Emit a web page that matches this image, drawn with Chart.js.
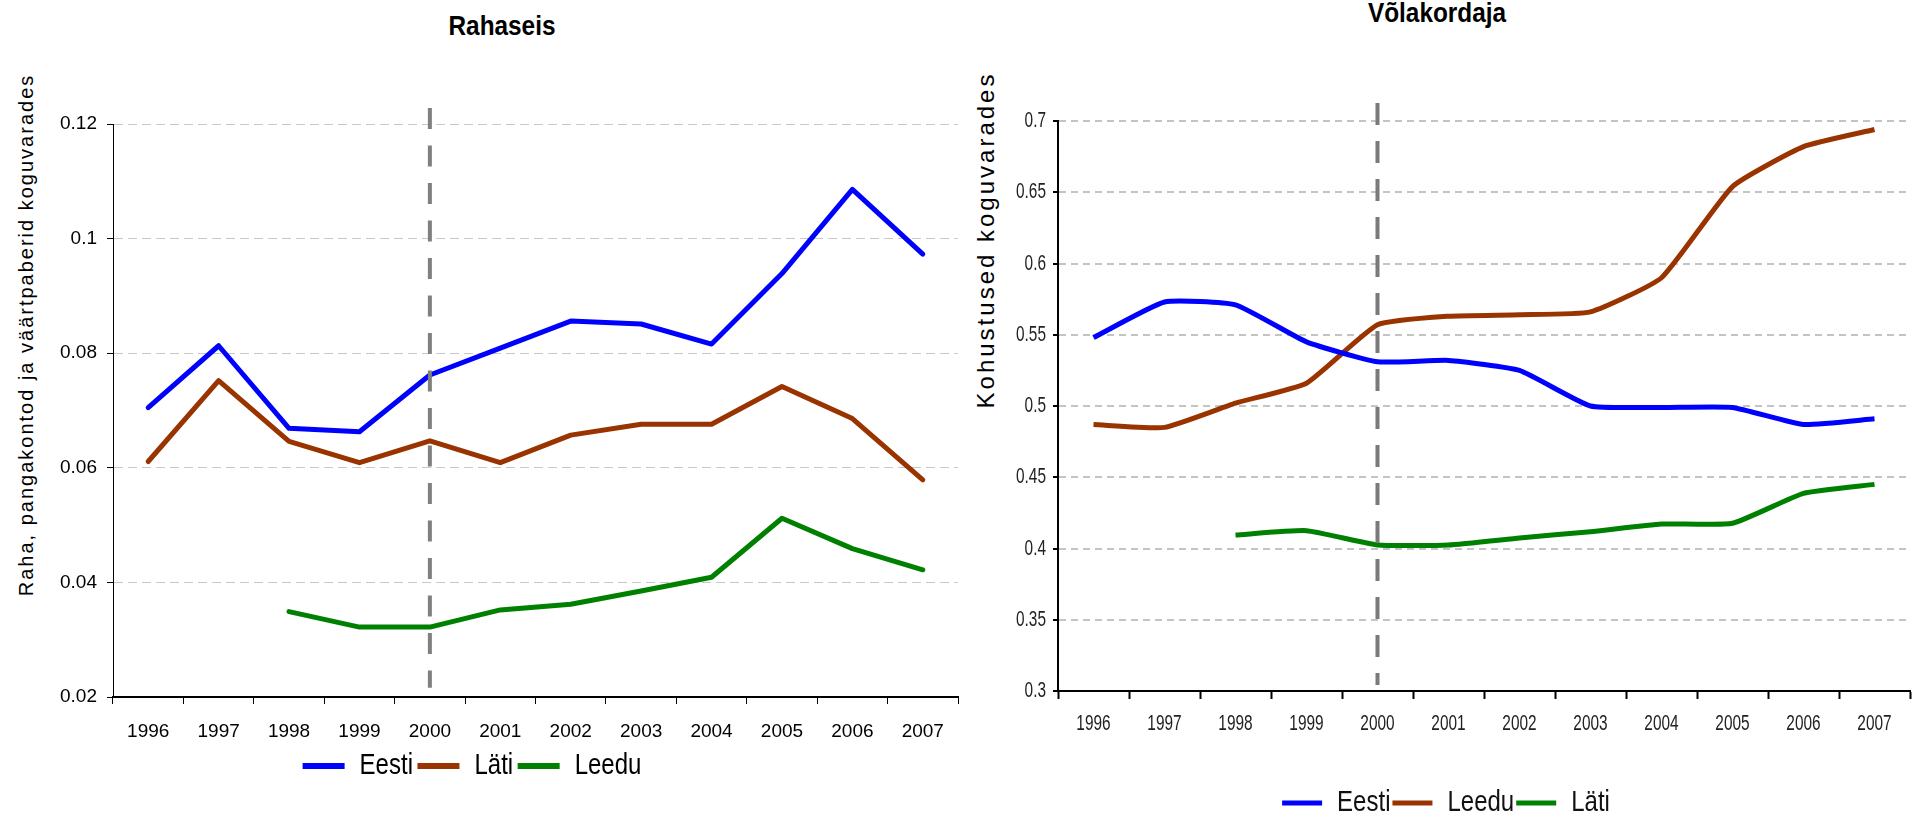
<!DOCTYPE html>
<html>
<head>
<meta charset="utf-8">
<script src="https://cdn.jsdelivr.net/npm/chart.js@4.4.0/dist/chart.umd.min.js"></script>
<style>
  body { margin: 0; width: 1921px; height: 817px; overflow: hidden; background: #fff; position: relative; font-family: 'Liberation Sans', Arial, sans-serif; }
  .box { position: absolute; top: 0; height: 840px; }
  #leftBox { left: -14px; width: 975px; }
  #rightBox { left: 982px; width: 939px; }
  .title { position: absolute; font-weight: bold; font-size: 28px; transform: translate(-50%, -50%) scaleX(0.87); white-space: nowrap; }
  .ytitle { position: absolute; white-space: nowrap; transform: translate(-50%, -50%) rotate(-90deg); color: #000; }
</style>
</head>
<body>
<div class="title" style="left:502px; top:26px;">Rahaseis</div>
<div class="title" style="left:1437px; top:13px;">Võlakordaja</div>
<div class="ytitle" style="left:26px; top:335px; font-size:20px; letter-spacing:2px;">Raha, pangakontod ja väärtpaberid koguvarades</div>
<div class="ytitle" style="left:986px; top:240px; font-size:24px; letter-spacing:3px;">Kohustused koguvarades</div>
<div class="box" id="leftBox"><canvas id="cashChart"></canvas></div>
<div class="box" id="rightBox"><canvas id="debtChart"></canvas></div>
<script>
const years = ['1996', '1997', '1998', '1999', '2000', '2001', '2002', '2003', '2004', '2005', '2006', '2007']

// Rahaseis
const cashEesti = [0.0705, 0.0813, 0.0669, 0.0663, 0.0762, 0.0809, 0.0856, 0.0851, 0.0816, 0.0939, 0.1086, 0.0973]
const cashLati = [0.0611, 0.0752, 0.0646, 0.0609, 0.0647, 0.0609, 0.0657, 0.0676, 0.0676, 0.0742, 0.0686, 0.0579]
const cashLeedu = [null, null, 0.0349, 0.0322, 0.0322, 0.0352, 0.0362, 0.0385, 0.0409, 0.0512, 0.0459, 0.0422]
const cashTicks = [0.02, 0.04, 0.06, 0.08, 0.1, 0.12]

// Võlakordaja
const debtEesti = [0.548, 0.573, 0.571, 0.545, 0.531, 0.532, 0.525, 0.500, 0.499, 0.499, 0.487, 0.491]
const debtLeedu = [0.487, 0.485, 0.502, 0.516, 0.557, 0.563, 0.564, 0.566, 0.590, 0.654, 0.682, 0.694]
const debtLati = [null, null, 0.4095, 0.4125, 0.4025, 0.4025, 0.4074, 0.4118, 0.4172, 0.4177, 0.4387, 0.445]
const debtTicks = [0.3, 0.35, 0.4, 0.45, 0.5, 0.55, 0.6, 0.65, 0.7]

// dashed marker at year 2000, value range it covers
const refYear = '2000'
const cashRefSpan = [0.0216, 0.1228]
const debtRefSpan = [0.3042, 0.7126]

// "sqNN" in a family list = draw that text squeezed to NN% width (no narrow font installed)
const regular = "'Liberation Sans', Arial, sans-serif"
const narrow80 = "'Liberation Sans', sq80, sans-serif"
const narrow70 = "'Liberation Sans', sq70, sans-serif"

let squeeze = (canvas) => {
  const ctx = canvas.getContext('2d')
  const fill = ctx.fillText.bind(ctx)
  const measure = ctx.measureText.bind(ctx)
  const factor = () => {
    const m = /sq(\d+)/.exec(ctx.font)
    return m ? m[1] / 100 : 1
  }
  ctx.fillText = (text, x, y, maxWidth) => {
    const k = factor()
    if (k === 1) return fill(text, x, y, maxWidth)
    ctx.save()
    ctx.translate(x, y)
    ctx.scale(k, 1)
    fill(text, 0, 0)
    ctx.restore()
  }
  ctx.measureText = (text) => {
    const k = factor()
    const m = measure(text)
    if (k === 1) return m
    return {
      width: m.width * k,
      actualBoundingBoxAscent: m.actualBoundingBoxAscent,
      actualBoundingBoxDescent: m.actualBoundingBoxDescent,
      actualBoundingBoxLeft: m.actualBoundingBoxLeft * k,
      actualBoundingBoxRight: m.actualBoundingBoxRight * k
    }
  }
  return canvas
}

const refLine = {
  id: 'refLine',
  afterDatasetsDraw(chart, args, opts) {
    const { ctx, scales: { x, y } } = chart
    const px = x.getPixelForValue(years.indexOf(refYear))
    ctx.save()
    ctx.strokeStyle = opts.color
    ctx.lineWidth = opts.width
    ctx.setLineDash(opts.dash)
    ctx.beginPath()
    ctx.moveTo(px, y.getPixelForValue(opts.span[1]))
    ctx.lineTo(px, y.getPixelForValue(opts.span[0]))
    ctx.stroke()
    ctx.restore()
  }
}

let line = (label, data, color, tension, cap) => ({
  label: label,
  data: data,
  borderColor: color,
  backgroundColor: color,
  borderWidth: 5,
  pointRadius: 0,
  tension: tension,
  borderCapStyle: cap,
  borderJoinStyle: 'round'
})

let legendLabels = (chart) =>
  Chart.defaults.plugins.legend.labels.generateLabels(chart).map(l => ({ ...l, lineWidth: 0 }))

const cashConfig = {
  type: 'line',
  data: {
    labels: years,
    datasets: [
      line('Eesti', cashEesti, '#0000ff', 0, 'round'),
      line('Läti', cashLati, '#993300', 0, 'round'),
      line('Leedu', cashLeedu, '#008000', 0, 'round')
    ]
  },
  options: {
    responsive: true,
    maintainAspectRatio: false,
    animation: false,
    layout: { padding: { top: 124, left: 0, right: 3, bottom: 49 } },
    plugins: {
      tooltip: { enabled: false },
      legend: {
        position: 'bottom',
        labels: { boxWidth: 42, boxHeight: 6, padding: 4.5, color: '#000', font: { family: narrow80, size: 30 }, generateLabels: legendLabels }
      },
      refLine: { color: '#808080', width: 4, dash: [21, 16.5], span: cashRefSpan }
    },
    scales: {
      x: {
        offset: true,
        grid: { offset: true, drawOnChartArea: false, tickLength: 7, tickColor: '#000', tickWidth: 1 },
        border: { color: '#000', width: 2 },
        ticks: { color: '#000', font: { family: regular, size: 19 }, padding: 16, maxRotation: 0, autoSkip: false },
        afterFit: s => { s.height = 49.5 }
      },
      y: {
        min: 0.02,
        max: 0.12,
        afterBuildTicks: s => { s.ticks = cashTicks.map(v => ({ value: v })) },
        grid: { color: '#c8c8c8', lineWidth: 1, tickLength: 6, tickColor: '#000', tickWidth: 1 },
        border: { color: '#000', width: 1, dash: [9, 5] },
        ticks: { color: '#000', font: { family: regular, size: 19 }, padding: 10, callback: v => String(v) },
        afterFit: s => { s.width = 127 }
      }
    }
  },
  plugins: [refLine]
}

const debtConfig = {
  type: 'line',
  data: {
    labels: years,
    datasets: [
      line('Eesti', debtEesti, '#0000ff', 0.15, 'butt'),
      line('Leedu', debtLeedu, '#993300', 0.15, 'butt'),
      line('Läti', debtLati, '#008000', 0.15, 'butt')
    ]
  },
  options: {
    responsive: true,
    maintainAspectRatio: false,
    animation: false,
    layout: { padding: { top: 121, left: 0, right: 11, bottom: 12 } },
    plugins: {
      tooltip: { enabled: false },
      legend: {
        position: 'bottom',
        labels: { boxWidth: 40, boxHeight: 5, padding: 2, color: '#111', font: { family: narrow80, size: 30 }, generateLabels: legendLabels }
      },
      refLine: { color: '#7a7a7a', width: 4, dash: [22, 16], span: debtRefSpan }
    },
    scales: {
      x: {
        offset: true,
        grid: { offset: true, drawOnChartArea: false, tickLength: 8, tickColor: '#000', tickWidth: 2 },
        border: { color: '#000', width: 2 },
        ticks: { color: '#222', font: { family: narrow70, size: 22 }, padding: 12, maxRotation: 0, autoSkip: false },
        afterFit: s => { s.height = 95 }
      },
      y: {
        min: 0.3,
        max: 0.7,
        afterBuildTicks: s => { s.ticks = debtTicks.map(v => ({ value: v })) },
        grid: { color: '#c4c4c4', lineWidth: 2, tickLength: 5, tickColor: '#000', tickWidth: 2 },
        border: { color: '#000', width: 2, dash: [7, 5] },
        ticks: { color: '#222', font: { family: narrow70, size: 22 }, padding: 7, callback: v => String(v) },
        afterFit: s => { s.width = 76 }
      }
    }
  },
  plugins: [refLine]
}

const cashChart = new Chart(squeeze(document.getElementById('cashChart')), cashConfig)
const debtChart = new Chart(squeeze(document.getElementById('debtChart')), debtConfig)
</script>
</body>
</html>
